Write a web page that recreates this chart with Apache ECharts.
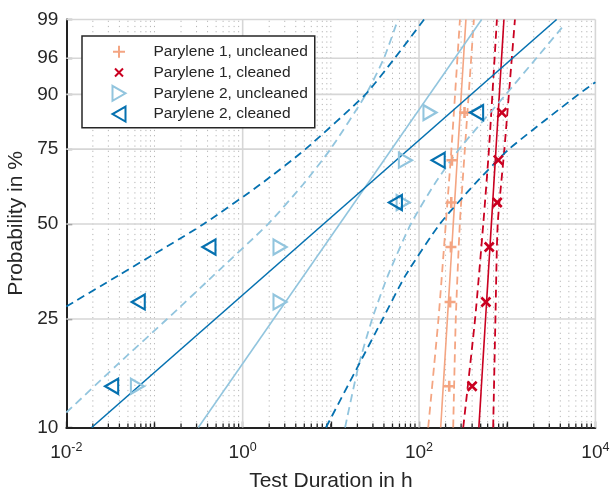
<!DOCTYPE html>
<html><head><meta charset="utf-8">
<script src="https://cdn.jsdelivr.net/npm/echarts@6/dist/echarts.min.js"></script>
<style>html,body{margin:0;padding:0;background:#fff}#c{width:611px;height:489px}</style>
</head><body><div id="c"></div>
<script>
// ---- data ----
const yTickLabels = [10, 25, 50, 75, 90, 96, 99];          // probability ticks (%)
const xTickExponents = [-2, 0, 2, 4];                       // labelled decades
const rankPercent = [14.3, 28.6, 42.9, 57.1, 71.4, 85.7];   // plotting positions (%)

const p1UncleanedHours = [220, 225, 230, 232, 236, 328];
const p1CleanedHours   = [400, 573, 625, 770, 793, 870];
const p2UncleanedHours = [0.064, 2.65, 2.65, 66, 70, 133];
const p2CleanedHours   = [0.0327, 0.0655, 0.415, 54, 165, 450];

// fitted lines: hours at fitPercent
const fitPercent = [10, 99];
const p1UncleanedFitHours = [176, 340];
const p1CleanedFitHours   = [477, 918];
const p2UncleanedFitHours = [0.314, 513];
const p2CleanedFitHours   = [0.0194, 3630];

// confidence bounds: [hours, percent]
const p1UncleanedBoundA = [[127,10],[166,25],[201,50],[233,75],[291,99]];
const p1UncleanedBoundB = [[244,10],[261,25],[290,50],[331,75],[419,99]];
const p1CleanedBoundA   = [[317,10],[432,25],[535,50],[621,75],[764,99]];
const p1CleanedBoundB   = [[693,10],[735,25],[780,50],[929,75],[1223,99]];
const p2UncleanedBoundA = [[0.01,11.4],[0.0366,17],[0.139,25],[0.468,35],[1.94,50],[4.84,63.2],[9.9,75],[25,90],[40,96],[57.7,99]];
const p2UncleanedBoundB = [[14.5,10],[20.6,17],[29.4,25],[44.4,35],[80.7,50],[149,63.2],[285,75],[966,90],[2140,96],[4170,98.6]];
const p2CleanedBoundA   = [[0.01,27.6],[0.0391,35],[0.361,50],[1.58,63.2],[5.15,75],[24.7,90],[53,96],[114,99]];
const p2CleanedBoundB   = [[8.8,10],[20.4,17],[38.7,25],[70.3,35],[172,50],[424,63.2],[1045,75],[6430,90],[10000,92.4]];

const seriesNames = ['Parylene 1, uncleaned', 'Parylene 1, cleaned', 'Parylene 2, uncleaned', 'Parylene 2, cleaned'];

// ---- styling ----
const FONT = '"Liberation Sans", Arial, Helvetica, sans-serif';
const TXT = '#262626';
const C1u = '#F4A582', C1c = '#CA0020', C2u = '#92C5DE', C2c = '#0571B0';

const wb = p => Math.log(-Math.log(1 - p / 100));   // Weibull probability scale
const Y_MIN = wb(10), Y_MAX = wb(99);

const minorX = [];
for (let d = -2; d < 4; d++) {
  for (let k = 2; k <= 9; k++) minorX.push(k * Math.pow(10, d));
  if (d % 2 !== 0) minorX.push(Math.pow(10, d));
}
const majorX = [1, 100, 10000];

function renderGrid(params, api) {
  const ch = [];
  const add = (a, b, style) => ch.push({type: 'line', silent: true, shape: {x1: a[0], y1: a[1], x2: b[0], y2: b[1]}, style});
  const dotted = {stroke: '#b4b4b4', lineWidth: 1, lineDash: [1.2, 4]};
  const major = {stroke: '#d6d6d6', lineWidth: 1.6};
  const tick = {stroke: '#222', lineWidth: 1.3};
  minorX.forEach(v => add(api.coord([v, Y_MIN]), api.coord([v, Y_MAX]), dotted));
  majorX.forEach(v => add(api.coord([v, Y_MIN]), api.coord([v, Y_MAX]), major));
  yTickLabels.slice(1).forEach(p => add(api.coord([0.01, wb(p)]), api.coord([10000, wb(p)]), major));
  minorX.forEach(v => { const a = api.coord([v, Y_MIN]); add(a, [a[0], a[1] - 4], tick); });
  return {type: 'group', children: ch};
}

const pts = hours => hours.map((h, i) => [h, wb(rankPercent[i])]);
const fit = hours => hours.map((h, i) => [h, wb(fitPercent[i])]);
const bnd = arr => arr.map(([h, p]) => [h, wb(p)]);

function lineSeries(data, color, dashed) {
  return {
    type: 'line', data, symbol: 'none', silent: true, z: 3, smooth: dashed ? 0.2 : false,
    lineStyle: {color, width: dashed ? 1.8 : 1.6, type: dashed ? [8, 5] : 'solid'}
  };
}

const PLUS = 'path://M0,5L10,5M5,0L5,10';
const CROSS = 'path://M0,0L10,10M10,0L0,10';
const TRI_R = 'path://M0,0L13,7.5L0,15Z';
const TRI_L = 'path://M13,0L0,7.5L13,15Z';
// legend icons: 37x15 box, symbol in the left 15px
const LEG_ICONS = [
  'path://M0,0M37,15M1.5,7.5L13.5,7.5M7.5,1.5L7.5,13.5',
  'path://M0,0M37,15M3.5,3.5L11.5,11.5M11.5,3.5L3.5,11.5',
  'path://M0,0M37,15M1,0L14,7.5L1,15Z',
  'path://M0,0M37,15M14,0L1,7.5L14,15Z'
];

function scatterSeries(name, data, color, symbol, size, hollow, bw) {
  return {
    type: 'scatter', name, data, symbol, symbolSize: size, z: 5, silent: true,
    itemStyle: {color: hollow ? 'rgba(255,255,255,0)' : color, borderColor: color, borderWidth: bw, opacity: 1}
  };
}

const chart = echarts.init(document.getElementById('c'), null, {renderer: 'canvas'});
chart.setOption({
  animation: false,
  textStyle: {fontFamily: FONT},
  grid: {left: 66.3, right: 15.6, top: 19.5, bottom: 61.5, containLabel: false, outerBoundsMode: 'none'},
  legend: {
    data: seriesNames.map((n, i) => ({name: n, icon: LEG_ICONS[i]})),
    orient: 'vertical', left: 82, top: 36,
    backgroundColor: '#fff', borderColor: '#262626', borderWidth: 1.5,
    padding: [7.2, 7, 5.2, 28.5], itemGap: 3.8, itemWidth: 37, itemHeight: 15,
    selectedMode: false,
    textStyle: {fontFamily: FONT, fontSize: 15.5, lineHeight: 15, color: TXT}
  },
  xAxis: {
    type: 'log', logBase: 10, min: 0.01, max: 10000,
    name: 'Test Duration in h', nameLocation: 'middle', nameGap: 43,
    nameTextStyle: {fontFamily: FONT, fontSize: 21, color: TXT},
    axisLine: {show: true, onZero: false, lineStyle: {color: '#222', width: 2}},
    axisTick: {show: true, inside: true, length: 6, lineStyle: {color: '#222', width: 1.3}},
    splitLine: {show: false}, minorTick: {show: false},
    axisLabel: {
      margin: 14, color: TXT,
      formatter: v => {
        const e = Math.round(Math.log10(v));
        if (xTickExponents.indexOf(e) < 0) return '';
        return '{b|10}{s|' + e + '}';
      },
      rich: {
        b: {fontFamily: FONT, fontSize: 19, color: TXT},
        s: {fontFamily: FONT, fontSize: 12.5, color: TXT, padding: [0, 0, 9, 0]}
      }
    }
  },
  yAxis: {
    type: 'value', min: Y_MIN, max: Y_MAX,
    name: 'Probability in %', nameLocation: 'middle', nameGap: 36,
    nameTextStyle: {fontFamily: FONT, fontSize: 21, color: TXT},
    axisLine: {show: true, onZero: false, lineStyle: {color: '#222', width: 2}},
    axisTick: {show: true, inside: true, length: 6, lineStyle: {color: '#222', width: 1.3},
      customValues: yTickLabels.map(wb)},
    splitLine: {show: false},
    axisLabel: {
      margin: 8, color: TXT, fontFamily: FONT, fontSize: 19,
      customValues: yTickLabels.map(wb),
      formatter: v => {
        let best = yTickLabels[0];
        yTickLabels.forEach(t => { if (Math.abs(wb(t) - v) < Math.abs(wb(best) - v)) best = t; });
        return String(best);
      }
    }
  },
  series: [
    {type: 'custom', renderItem: renderGrid, data: [[1, 0]], z: 1, silent: true, clip: false},
    lineSeries(fit(p1UncleanedFitHours), C1u, false),
    lineSeries(bnd(p1UncleanedBoundA), C1u, true),
    lineSeries(bnd(p1UncleanedBoundB), C1u, true),
    lineSeries(fit(p1CleanedFitHours), C1c, false),
    lineSeries(bnd(p1CleanedBoundA), C1c, true),
    lineSeries(bnd(p1CleanedBoundB), C1c, true),
    lineSeries(fit(p2UncleanedFitHours), C2u, false),
    lineSeries(bnd(p2UncleanedBoundA), C2u, true),
    lineSeries(bnd(p2UncleanedBoundB), C2u, true),
    lineSeries(fit(p2CleanedFitHours), C2c, false),
    lineSeries(bnd(p2CleanedBoundA), C2c, true),
    lineSeries(bnd(p2CleanedBoundB), C2c, true),
    scatterSeries(seriesNames[0], pts(p1UncleanedHours), C1u, PLUS, 11, false, 2.6),
    scatterSeries(seriesNames[1], pts(p1CleanedHours), C1c, CROSS, 9, false, 2.6),
    scatterSeries(seriesNames[2], pts(p2UncleanedHours), C2u, TRI_R, [13, 15], true, 2.2),
    scatterSeries(seriesNames[3], pts(p2CleanedHours), C2c, TRI_L, [13, 15], true, 2.2)
  ]
});
</script></body></html>
